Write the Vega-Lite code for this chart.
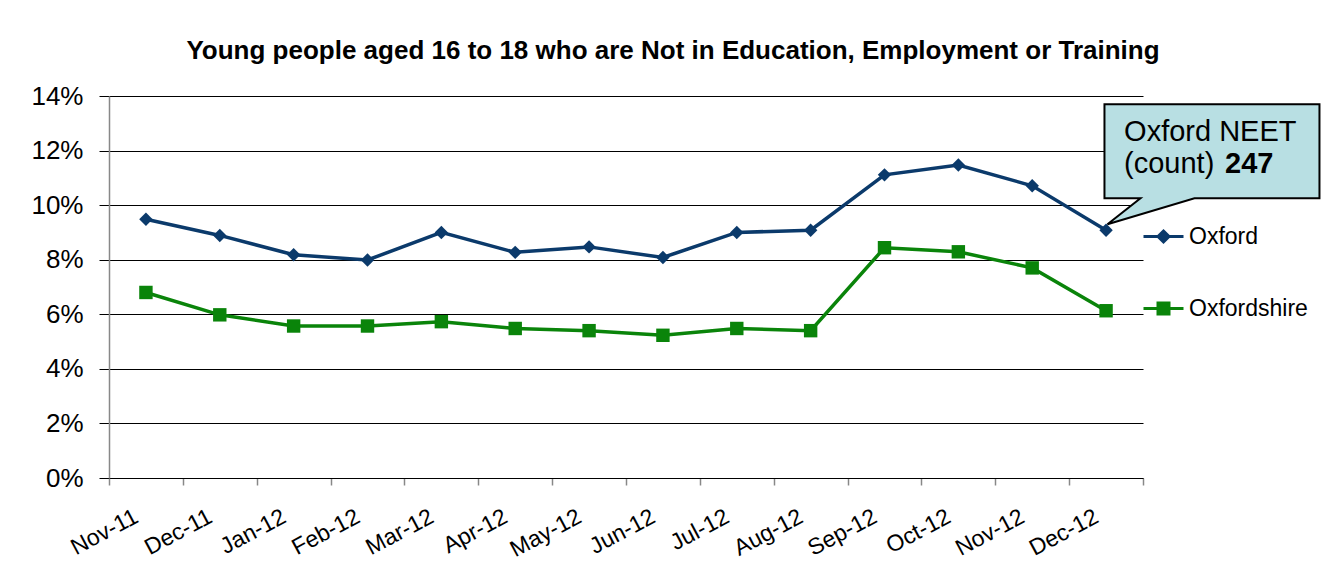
{
  "$schema": "https://vega.github.io/schema/vega-lite/v6.json",
  "width": 1034,
  "height": 382,
  "autosize": {"type": "none"},
  "padding": {"left": 109, "top": 96, "right": 185, "bottom": 91},
  "background": "white",
  "config": {"view": {"stroke": null}, "font": "Liberation Sans"},
  "title": {
    "text": "Young people aged 16 to 18 who are Not in Education, Employment or Training",
    "font": "Liberation Sans",
    "fontSize": 26,
    "fontWeight": "bold",
    "color": "#000000",
    "anchor": "middle",
    "frame": "group",
    "dx": 47,
    "offset": -2,
    "baseline": "alphabetic"
  },
  "data": {
    "values": [
      {"month": "Nov-11", "series": "Oxford", "value": 0.0948},
      {"month": "Dec-11", "series": "Oxford", "value": 0.0889},
      {"month": "Jan-12", "series": "Oxford", "value": 0.0818},
      {"month": "Feb-12", "series": "Oxford", "value": 0.0799},
      {"month": "Mar-12", "series": "Oxford", "value": 0.0900},
      {"month": "Apr-12", "series": "Oxford", "value": 0.0827},
      {"month": "May-12", "series": "Oxford", "value": 0.0847},
      {"month": "Jun-12", "series": "Oxford", "value": 0.0808},
      {"month": "Jul-12", "series": "Oxford", "value": 0.0900},
      {"month": "Aug-12", "series": "Oxford", "value": 0.0908},
      {"month": "Sep-12", "series": "Oxford", "value": 0.1111},
      {"month": "Oct-12", "series": "Oxford", "value": 0.1147},
      {"month": "Nov-12", "series": "Oxford", "value": 0.1071},
      {"month": "Dec-12", "series": "Oxford", "value": 0.0908},
      {"month": "Nov-11", "series": "Oxfordshire", "value": 0.0680},
      {"month": "Dec-11", "series": "Oxfordshire", "value": 0.0598},
      {"month": "Jan-12", "series": "Oxfordshire", "value": 0.0557},
      {"month": "Feb-12", "series": "Oxfordshire", "value": 0.0557},
      {"month": "Mar-12", "series": "Oxfordshire", "value": 0.0573},
      {"month": "Apr-12", "series": "Oxfordshire", "value": 0.0548},
      {"month": "May-12", "series": "Oxfordshire", "value": 0.0540},
      {"month": "Jun-12", "series": "Oxfordshire", "value": 0.0523},
      {"month": "Jul-12", "series": "Oxfordshire", "value": 0.0548},
      {"month": "Aug-12", "series": "Oxfordshire", "value": 0.0540},
      {"month": "Sep-12", "series": "Oxfordshire", "value": 0.0844},
      {"month": "Oct-12", "series": "Oxfordshire", "value": 0.0829},
      {"month": "Nov-12", "series": "Oxfordshire", "value": 0.0770},
      {"month": "Dec-12", "series": "Oxfordshire", "value": 0.0613}
    ]
  },
  "encoding": {
    "x": {
      "field": "month",
      "type": "ordinal",
      "sort": ["Nov-11", "Dec-11", "Jan-12", "Feb-12", "Mar-12", "Apr-12", "May-12", "Jun-12", "Jul-12", "Aug-12", "Sep-12", "Oct-12", "Nov-12", "Dec-12"],
      "scale": {"type": "band", "paddingInner": 0, "paddingOuter": 0},
      "axis": {
        "title": null,
        "labelAngle": -28,
        "labelAlign": "right",
        "labelBaseline": "top",
        "labelFont": "Liberation Sans",
        "labelFontSize": 23,
        "labelColor": "#000000",
        "labelPadding": 20,
        "labelOffset": -15,
        "tickBand": "extent",
        "tickSize": 7,
        "tickColor": "#888888",
        "tickWidth": 1.5,
        "domainColor": "#000000",
        "grid": false
      }
    },
    "y": {
      "field": "value",
      "type": "quantitative",
      "scale": {"domain": [0, 0.14], "nice": false, "zero": true},
      "axis": {
        "title": null,
        "values": [0, 0.02, 0.04, 0.06, 0.08, 0.1, 0.12, 0.14],
        "format": ".0%",
        "labelFont": "Liberation Sans",
        "labelFontSize": 26,
        "labelColor": "#000000",
        "labelPadding": 16,
        "tickSize": 10,
        "tickColor": "#000000",
        "grid": true,
        "gridColor": "#000000",
        "gridWidth": 1,
        "domainColor": "#888888",
        "domainWidth": 1.5
      }
    }
  },
  "layer": [
    {
      "mark": {"type": "point", "filled": true, "opacity": 0, "size": 400},
      "encoding": {
        "color": {
          "field": "series",
          "type": "nominal",
          "scale": {"domain": ["Oxford", "Oxfordshire"], "range": ["#0b3a6b", "#0a840a"]},
          "legend": {
            "orient": "none",
            "legendX": 1043,
            "legendY": 129,
            "title": null,
            "labelFont": "Liberation Sans",
            "labelFontSize": 23,
            "labelColor": "#000000",
            "symbolSize": 400,
            "symbolStrokeWidth": 3,
            "symbolOpacity": 1,
            "labelOffset": 14,
            "rowPadding": 48,
            "padding": 0
          }
        },
        "shape": {
          "field": "series",
          "type": "nominal",
          "scale": {
            "domain": ["Oxford", "Oxfordshire"],
            "range": ["M-2,0L2,0M0,-0.55L0.55,0L0,0.55L-0.55,0Z", "M-2,0L2,0M-0.55,-0.55L0.55,-0.55L0.55,0.55L-0.55,0.55Z"]
          },
          "legend": null
        }
      }
    },
    {
      "mark": {"type": "line", "strokeWidth": 3.5},
      "encoding": {
        "color": {"field": "series", "type": "nominal"}
      }
    },
    {
      "transform": [{"filter": "datum.series === 'Oxford'"}],
      "mark": {"type": "point", "shape": "diamond", "filled": true, "opacity": 1, "size": 180},
      "encoding": {
        "color": {"field": "series", "type": "nominal"}
      }
    },
    {
      "transform": [{"filter": "datum.series === 'Oxfordshire'"}],
      "mark": {"type": "point", "shape": "square", "filled": true, "opacity": 1, "size": 180},
      "encoding": {
        "color": {"field": "series", "type": "nominal"}
      }
    },
    {
      "transform": [{"filter": "datum.series === 'Oxford' && datum.month === 'Dec-12'"}],
      "mark": {
        "type": "point",
        "shape": "M-0.016,-1.26L2.134,-1.26L2.134,-0.32L0.884,-0.32L0.014,-0.06L0.344,-0.32L-0.016,-0.32Z",
        "size": 40000,
        "filled": true,
        "fill": "#b8dfe3",
        "stroke": "#000000",
        "strokeWidth": 2,
        "opacity": 1
      }
    },
    {
      "transform": [{"filter": "datum.series === 'Oxford' && datum.month === 'Dec-12'"}],
      "mark": {"type": "text", "text": "Oxford NEET", "align": "left", "baseline": "alphabetic", "dx": 18, "dy": -89, "font": "Liberation Sans", "fontSize": 29, "color": "#000000"}
    },
    {
      "transform": [{"filter": "datum.series === 'Oxford' && datum.month === 'Dec-12'"}],
      "mark": {"type": "text", "text": "(count)", "align": "left", "baseline": "alphabetic", "dx": 18, "dy": -57, "font": "Liberation Sans", "fontSize": 29, "color": "#000000"}
    },
    {
      "transform": [{"filter": "datum.series === 'Oxford' && datum.month === 'Dec-12'"}],
      "mark": {"type": "text", "text": "247", "align": "left", "baseline": "alphabetic", "dx": 119, "dy": -57, "font": "Liberation Sans", "fontSize": 29, "fontWeight": "bold", "color": "#000000"}
    }
  ]
}
